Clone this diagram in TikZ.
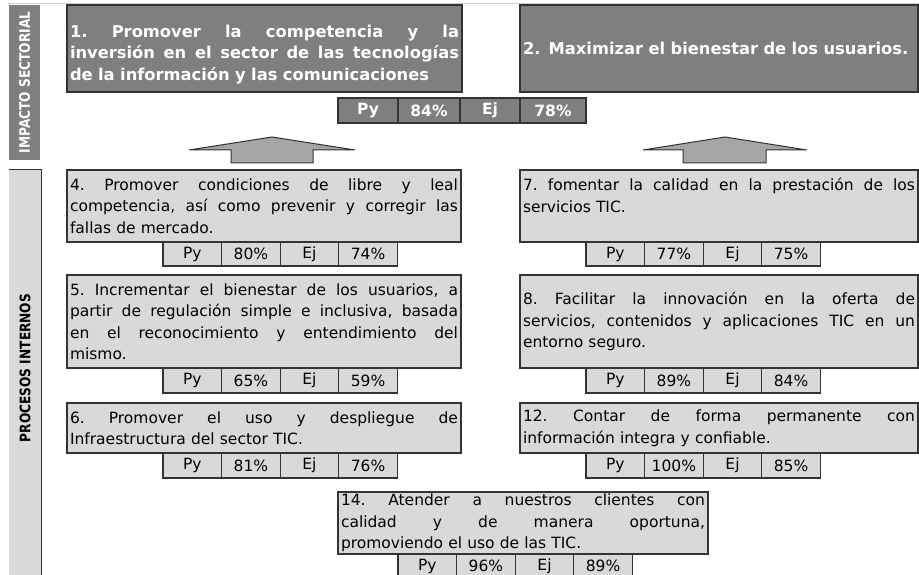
\documentclass[tikz,border=0pt]{standalone}
\usepackage{fontspec}
\setmainfont{DejaVu Sans}
\definecolor{dkgray}{HTML}{7F7F7F}
\definecolor{ltgray}{HTML}{D9D9D9}
\definecolor{argray}{HTML}{A6A6A6}
\definecolor{edgec}{HTML}{333333}
\definecolor{topline}{HTML}{CFCFCF}
\newcommand\jl[2][388pt]{{\frenchspacing\spaceskip=0.318em plus 1fil\relax
  \xspaceskip=0.318em plus 1fil\relax\makebox[#1][s]{#2}}}
\newcommand\PyRow[7]{%
  \foreach \i/\t in {0/Py,1/#5,2/Ej,3/#6}{%
    \node[#7, minimum width=58.6pt, minimum height={#4-#3}] (#1-\i) at ({#2+(\i+0.5)*58.6},{(#3+#4)/2}) {\t};
  }%
}
\tikzset{
  darkbox/.style={draw=edgec, line width=1.2pt, fill=dkgray, text=white,
    font=\fontsize{16.3}{21.5}\selectfont\bfseries, inner xsep=3pt, inner ysep=0pt, align=left},
  lightbox/.style={draw=edgec, line width=1.2pt, fill=ltgray, text=black,
    font=\fontsize{15.5}{21.5}\selectfont, inner xsep=3pt, inner ysep=0pt, align=left},
  darkcell/.style={draw=edgec, line width=1.2pt, fill=dkgray, text=white,
    font=\fontsize{15.5}{18}\selectfont\bfseries, inner sep=0pt},
  lightcell/.style={draw=edgec, line width=1.2pt, fill=ltgray, text=black,
    font=\fontsize{15.5}{18}\selectfont, inner sep=0pt},
  blockarrow/.style={draw=edgec, line width=1pt, fill=argray, line join=miter},
  bandlabel/.style={font=\fontsize{14.5}{16}\selectfont\bfseries, inner sep=0pt},
}
\begin{document}
\begin{tikzpicture}[x=1pt,y=-1pt]
\useasboundingbox (0,0) rectangle (919,575);
\clip (0,0) rectangle (919,575);
\fill[white] (0,0) rectangle (919,575);
% top thin line
\draw[topline, line width=1pt] (8,4) -- (919,4);
% side bands
\node[fill=dkgray, rotate=90, minimum width=155pt, minimum height=31pt, inner sep=0pt,
      text=white, bandlabel] (imp) at (24.5,82.5) {\scalebox{0.84}[1]{IMPACTO SECTORIAL}};
\node[fill=ltgray, rotate=90, minimum width=406pt, minimum height=32pt, inner sep=0pt,
      text=black, bandlabel] (proc) at (25,373) {\hspace*{10pt}\scalebox{0.84}[1]{PROCESOS INTERNOS}};
\draw[edgec, line width=1.2pt] (proc.north east) -- (proc.south east) -- (proc.south west);
% top boxes
\node[darkbox, minimum width=395pt, minimum height=87pt, text width=389pt] (b1) at (264.5,48.5)
  {\rule{0pt}{24pt}\jl[389pt]{1. Promover la competencia y la}\\
   \jl[389pt]{inversión en el sector de las tecnologías}\\
   de la información y las comunicaciones};
\node[darkbox, minimum width=398pt, minimum height=87pt, text width=392pt] (b2) at (719,48.5)
  {2. Maximizar el bienestar de los usuarios.};
% top indicator row
\node[darkcell, minimum width=60pt, minimum height=25pt] (top-0) at (368,110.5) {Py};
\node[darkcell, minimum width=62pt, minimum height=25pt] (top-1) at (429,110.5) {84\%};
\node[darkcell, minimum width=60pt, minimum height=25pt] (top-2) at (490,110.5) {Ej};
\node[darkcell, minimum width=66pt, minimum height=25pt] (top-3) at (553,110.5) {78\%};
% block arrows
\filldraw[blockarrow] (272,137) -- (189,150) -- (231,150) -- (231,163) -- (313,163) -- (313,150) -- (355,150) -- cycle;
\filldraw[blockarrow] (725,137) -- (643,150) -- (683,150) -- (683,163) -- (766,163) -- (766,150) -- (807,150) -- cycle;
% process boxes
\node[lightbox, minimum width=394pt, minimum height=72pt, text width=388pt] (b4) at (264,206)
  {\jl{4. Promover condiciones de libre y leal}\\
   \jl{competencia, así como prevenir y corregir las}\\
   fallas de mercado.};
\PyRow{r4}{163}{242}{266}{80\%}{74\%}{lightcell}
\node[lightbox, minimum width=398pt, minimum height=72pt, text width=392pt] (b7) at (719,206)
  {\jl[392pt]{7. fomentar la calidad en la prestación de los}\\
   servicios TIC.\\ \mbox{}};
\PyRow{r7}{586}{242}{266}{77\%}{75\%}{lightcell}
\node[lightbox, minimum width=394pt, minimum height=93pt, text width=388pt] (b5) at (264,321.5)
  {\jl{5. Incrementar el bienestar de los usuarios, a}\\
   \jl{partir de regulación simple e inclusiva, basada}\\
   \jl{en el reconocimiento y entendimiento del}\\
   mismo.};
\PyRow{r5}{163}{368}{393}{65\%}{59\%}{lightcell}
\node[lightbox, minimum width=398pt, minimum height=93pt, text width=392pt] (b8) at (719,321.5)
  {\jl[392pt]{8. Facilitar la innovación en la oferta de}\\
   \jl[392pt]{servicios, contenidos y aplicaciones TIC en un}\\
   entorno seguro.};
\PyRow{r8}{586}{368}{393}{89\%}{84\%}{lightcell}
\node[lightbox, minimum width=394pt, minimum height=50pt, text width=388pt] (b6) at (264,428)
  {\jl{6. Promover el uso y despliegue de}\\
   Infraestructura del sector TIC.};
\PyRow{r6}{163}{453}{478}{81\%}{76\%}{lightcell}
\node[lightbox, minimum width=398pt, minimum height=50pt, text width=392pt] (b12) at (719,428)
  {\jl[392pt]{12. Contar de forma permanente con}\\
   información integra y confiable.};
\PyRow{r12}{586}{453}{478}{100\%}{85\%}{lightcell}
\node[lightbox, minimum width=370pt, minimum height=62pt, text width=364pt] (b14) at (523,523)
  {\jl[364pt]{14. Atender a nuestros clientes con}\\
   \jl[364pt]{calidad y de manera oportuna,}\\
   promoviendo el uso de las TIC.};
\PyRow{r14}{398}{554}{578}{96\%}{89\%}{lightcell}
\end{tikzpicture}
\end{document}
